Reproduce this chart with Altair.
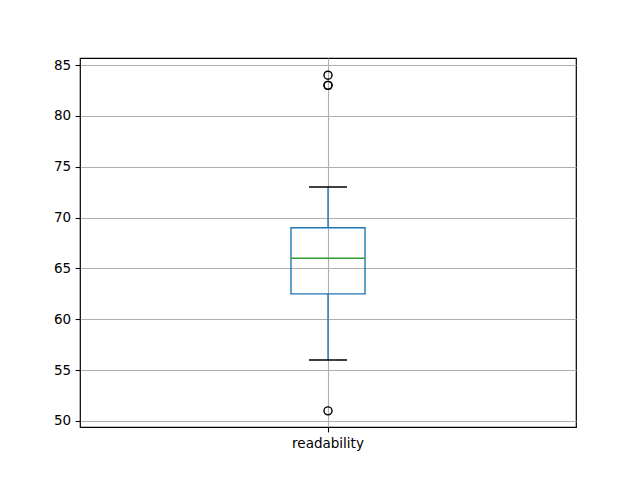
import altair as alt
import pandas as pd

category = ["readability"]
q1 = [62.5]
median = [66.0]
q3 = [69.0]
whisker_low = [56.0]
whisker_high = [73.0]
outliers = [84.0, 83.0, 83.0, 51.0]

stats = pd.DataFrame({
    "cat": category, "q1": q1, "median": median, "q3": q3,
    "lo": whisker_low, "hi": whisker_high,
})
out = pd.DataFrame({"cat": category * len(outliers), "value": outliers})

yscale = alt.Scale(domain=[49.41, 85.69], nice=False, zero=False)
xenc = alt.X("cat:N", title=None, scale=alt.Scale(paddingInner=0, paddingOuter=0),
             axis=alt.Axis(labelAngle=0, grid=True))
yax = alt.Axis(values=[50, 55, 60, 65, 70, 75, 80, 85], grid=True, title=None)

base = alt.Chart(stats)
lw = 1.39

whisk_up = base.mark_rule(color="#1f77b4", strokeWidth=lw, opacity=1).encode(
    x=xenc, y=alt.Y("q3:Q", scale=yscale, axis=yax), y2="hi:Q")
whisk_dn = base.mark_rule(color="#1f77b4", strokeWidth=lw, opacity=1).encode(
    x=xenc, y=alt.Y("lo:Q", scale=yscale), y2="q1:Q")
box = base.mark_bar(size=74, fill="transparent", stroke="#1f77b4", strokeWidth=lw,
                    opacity=1, strokeOpacity=1).encode(
    x=xenc, y=alt.Y("q1:Q", scale=yscale), y2="q3:Q")
med = base.mark_tick(size=74, thickness=lw, color="#2ca02c", opacity=1).encode(
    x=xenc, y=alt.Y("median:Q", scale=yscale))
cap_hi = base.mark_tick(size=38, thickness=lw, color="black", opacity=1).encode(
    x=xenc, y=alt.Y("hi:Q", scale=yscale))
cap_lo = base.mark_tick(size=38, thickness=lw, color="black", opacity=1).encode(
    x=xenc, y=alt.Y("lo:Q", scale=yscale))
pts = alt.Chart(out).mark_point(shape="circle", size=64, filled=False,
                                color="black", strokeWidth=lw, opacity=1).encode(
    x=xenc, y=alt.Y("value:Q", scale=yscale))

chart = alt.layer(whisk_up, whisk_dn, box, med, cap_hi, cap_lo, pts).properties(
    width=496, height=369,
    autosize=alt.AutoSizeParams(type="none"),
    padding={"left": 72, "top": 50, "right": 56, "bottom": 45},
).configure_axis(
    labelFont="DejaVu Sans", labelFontSize=13.5, labelColor="black",
    tickColor="black", tickSize=4.9, tickWidth=1.1,
    gridColor="#b0b0b0", gridWidth=1.1, domain=False, labelPadding=4.5,
).configure_view(stroke="black", strokeWidth=1.2)

chart.save("out.html", embed_options={"renderer": "svg", "actions": False})
